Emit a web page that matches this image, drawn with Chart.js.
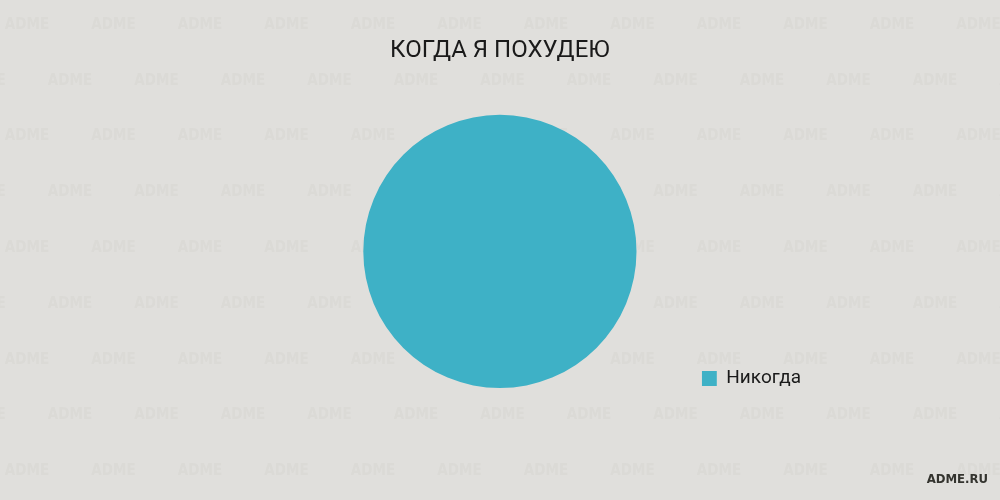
<!DOCTYPE html>
<html>
<head>
<meta charset="utf-8">
<script src="https://cdn.jsdelivr.net/npm/chart.js@4/dist/chart.umd.min.js"></script>
<style>
  html, body { margin: 0; padding: 0; background: #e0dfdc; }
  #wrap { width: 1000px; height: 500px; position: relative; }
</style>
</head>
<body>
<div id="wrap"><canvas id="c" width="1000" height="500"></canvas></div>
<script>
const chartTitle = "КОГДА Я ПОХУДЕЮ";
const categories = ["Никогда"];
const values = [100];
const sliceColors = ["#3eb1c6"];
const watermarkText = "ADME";
const siteLabel = "ADME.RU";

const backgroundPlugin = {
  id: 'bg',
  beforeDraw(chart) {
    const ctx = chart.ctx;
    const w = chart.width, h = chart.height;
    ctx.save();
    ctx.fillStyle = '#e0dfdc';
    ctx.fillRect(0, 0, w, h);
    ctx.font = 'bold 15px "DejaVu Sans Condensed", sans-serif';
    ctx.fillStyle = 'rgba(150,148,140,0.065)';
    ctx.textAlign = 'center';
    ctx.textBaseline = 'middle';
    let row = 0;
    for (let y = 25; y < h + 30; y += 55.8, row++) {
      const off = (row % 2) ? 70 : 27;
      for (let x = off - 86.5; x < w + 60; x += 86.5) {
        ctx.fillText(watermarkText, x, y);
      }
    }
    ctx.restore();
  },
  afterDraw(chart) {
    const ctx = chart.ctx;
    ctx.save();
    ctx.font = 'bold 13px "DejaVu Sans Condensed", sans-serif';
    ctx.fillStyle = '#34342f';
    ctx.textAlign = 'right';
    ctx.textBaseline = 'middle';
    ctx.fillText(siteLabel, 988, 480);
    ctx.restore();
  }
};

new Chart(document.getElementById('c'), {
  type: 'pie',
  data: {
    labels: categories,
    datasets: [{
      data: values,
      backgroundColor: sliceColors,
      borderWidth: 0
    }]
  },
  options: {
    responsive: false,
    animation: false,
    layout: { padding: { left: 298, right: 189, top: 0, bottom: 112 } },
    plugins: {
      title: {
        display: true,
        fullSize: false,
        text: chartTitle,
        color: '#1a1a1a',
        font: { family: 'Roboto', size: 24, weight: 'normal' },
        padding: { top: 37, bottom: 49 }
      },
      legend: {
        display: true,
        position: 'right',
        align: 'end',
        labels: {
          boxWidth: 15,
          boxHeight: 15,
          padding: 0,
          color: '#1a1a1a',
          font: { family: 'Roboto', size: 19 }
        }
      },
      tooltip: { enabled: false }
    }
  },
  plugins: [backgroundPlugin]
});
</script>
</body>
</html>
